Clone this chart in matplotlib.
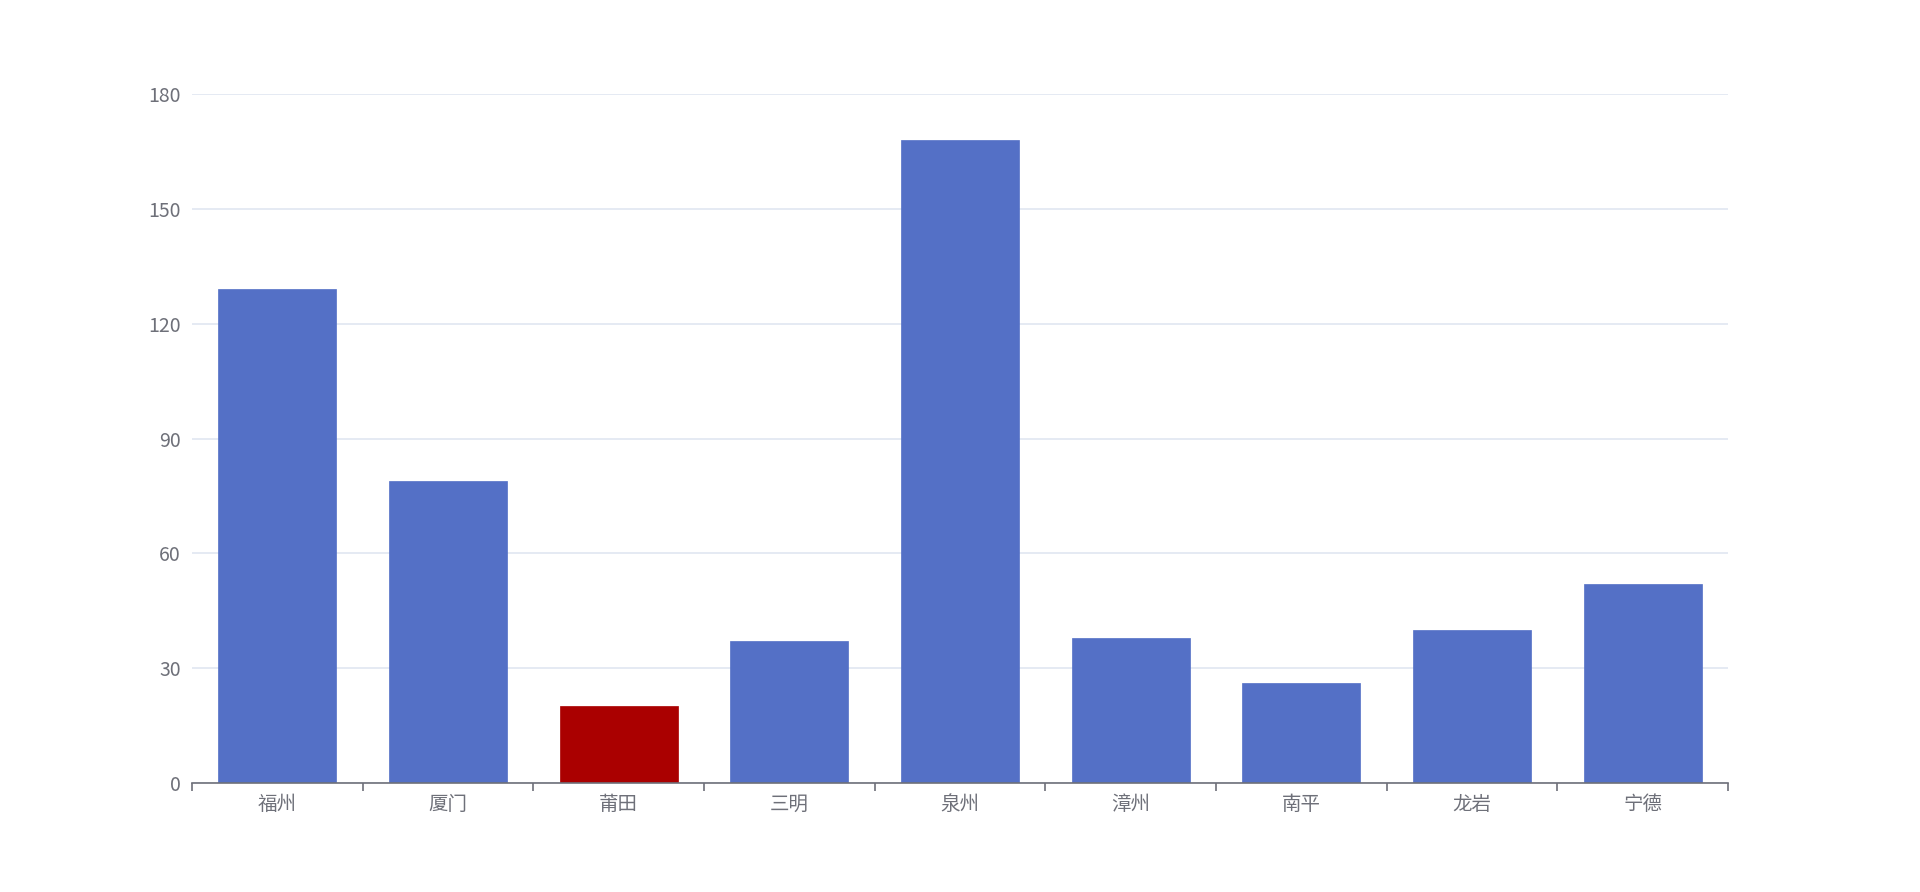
import matplotlib
matplotlib.use("Agg")
import matplotlib.pyplot as plt

plt.rcParams['font.family'] = ['Noto Sans CJK SC', 'DejaVu Sans']

categories = ["福州", "厦门", "莆田", "三明", "泉州", "漳州", "南平", "龙岩", "宁德"]
values = [129, 79, 20, 37, 168, 38, 26, 40, 52]
highlight = "莆田"
y_ticks = [0, 30, 60, 90, 120, 150, 180]

blue = "#5470C6"
red = "#AA0000"
grid_c = "#E0E6F1"
axis_c = "#6E7079"

fig = plt.figure(figsize=(19.2, 8.92), dpi=100)
ax = fig.add_axes([0.1, 0.1222, 0.8, 0.7724])

colors = [red if c == highlight else blue for c in categories]
x = list(range(len(categories)))
ax.bar(x, values, width=0.69, color=colors, edgecolor=colors, linewidth=0.5, zorder=3)

ax.set_xlim(-0.5, len(categories) - 0.5)
ax.set_ylim(0, 180)
ax.set_yticks(y_ticks)
ax.set_yticklabels([str(t) for t in y_ticks])
ax.yaxis.grid(True, color=grid_c, linewidth=1.2, zorder=0)
ax.tick_params(axis='y', length=0, pad=8, labelsize=14, labelcolor=axis_c)

ax.set_xticks(x)
ax.set_xticklabels(categories)
ax.tick_params(axis='x', which='major', length=0, pad=8, labelsize=14, labelcolor=axis_c)
ax.set_xticks([i - 0.5 for i in range(len(categories) + 1)], minor=True)
ax.tick_params(axis='x', which='minor', length=6, width=1.2, color=axis_c, direction='out')

for s in ['top', 'right', 'left']:
    ax.spines[s].set_visible(False)
ax.spines['bottom'].set_color(axis_c)
ax.spines['bottom'].set_linewidth(1.2)
ax.spines['bottom'].set_zorder(4)

fig.savefig("out.png", dpi=100, facecolor="white")
